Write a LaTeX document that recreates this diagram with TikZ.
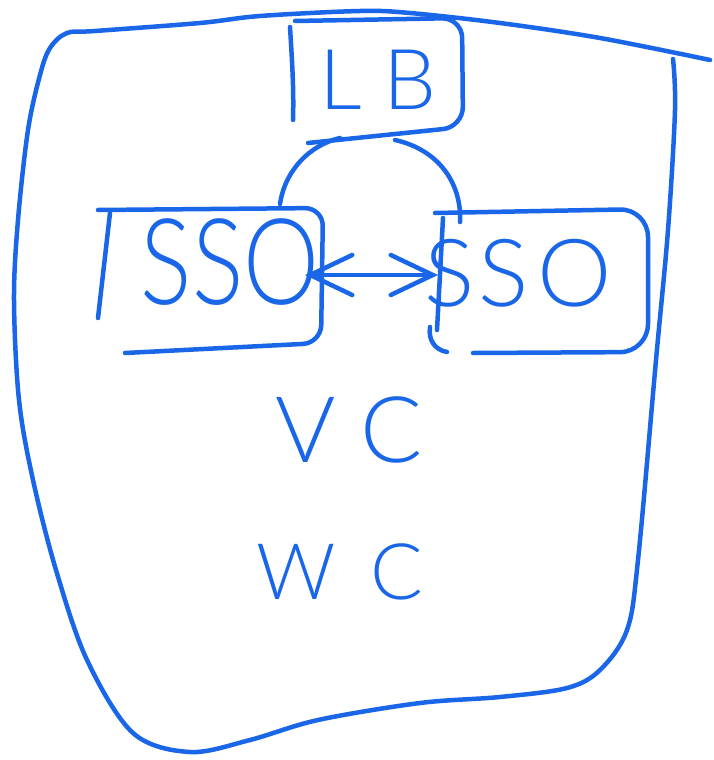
\documentclass[tikz,border=0pt]{standalone}
\usepackage{fontspec}
\usetikzlibrary{arrows.meta}
\newfontfamily\hand{Lato Light}
\definecolor{ink}{RGB}{25,103,232}
\tikzset{
  pen/.style={draw=ink, line width=4.5pt, line cap=round, line join=round},
  word/.style={text=ink, inner sep=0pt, font=\hand},
  barbs/.style={>={Straight Barb[length=42pt, width=40pt, line cap=round]}, <->}
}
\begin{document}
\begin{tikzpicture}[x=1pt,y=-1pt]
\useasboundingbox[fill=white] (0,0) rectangle (713,760);

% outer boundary
\draw[pen] plot[smooth, tension=0.55] coordinates {
  (710,60) (600,38) (500,23) (410,13) (360,11) (260,16) (200,23) (95,31)
  (67,33) (50,48) (40,75) (28,130) (18,220) (14,300) (19,400) (33,480)
  (56,570) (87,660) (133,733) (190,752)
  (250,740) (318,720) (420,703) (500,697) (567,688) (600,670) (627,630)
  (638,560) (656,360) (668,230) (675,110) (673,59)};

% LB box
\draw[pen] (290,27) .. controls (292,60) and (294,90) .. (293,120);
\draw[pen, rounded corners=20pt] (295,21) -- (462,18) -- (463,127) -- (308,143);
\node[word, font=\hand\fontsize{84}{84}\selectfont] (lb) at (378,80) {L\kern22pt B};

% left SSO box
\draw[pen] (110,213) -- (98,318);
\draw[pen, rounded corners=18pt] (98,210) -- (323,208) -- (321,343) -- (125,353);
\node[word, font=\hand\fontsize{120}{120}\selectfont, xscale=0.8] (sso1) at (230,262) {SSO};

% right SSO box
\draw[pen] (443,218) -- (437,330);
\draw[pen] (430,327) .. controls (428,340) and (435,350) .. (447,352);
\draw[pen, rounded corners=28pt] (435,213) -- (648,209) -- (648,352) -- (473,353);
\node[word, font=\hand\fontsize{94}{94}\selectfont] (sso2) at (518,273) {S\kern4pt S\kern8pt O};

% connectors: SSO -- LB -- SSO
\coordinate (s1top) at (280,204);
\coordinate (lbl) at (340,138);
\coordinate (lbr) at (395,140);
\coordinate (s2top) at (460,222);
\draw[pen] (s1top) .. controls (285,170) and (310,145) .. (lbl);
\draw[pen] (lbr) .. controls (440,150) and (462,185) .. (s2top);

% double arrow between SSO nodes
\coordinate (a1) at (305,275);
\coordinate (a2) at (438,275);
\draw[pen, barbs] (a1) -- (a2);

% VC and WC
\node[word, font=\hand\fontsize{92}{92}\selectfont] (vc) at (349,430) {V\kern24pt C};
\node[word, font=\hand\fontsize{78}{78}\selectfont] (wc) at (340,572) {W\kern34pt C};
\end{tikzpicture}
\end{document}
